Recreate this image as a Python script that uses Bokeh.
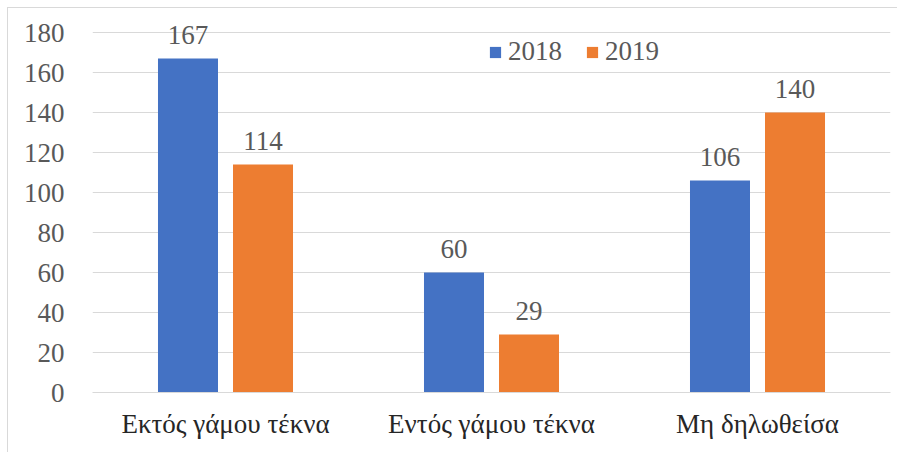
from bokeh.plotting import figure
from bokeh.models import ColumnDataSource, FactorRange, LabelSet, Legend, LegendItem
from bokeh.transform import dodge
from bokeh.embed import file_html
from bokeh.resources import INLINE

categories = ["Εκτός γάμου τέκνα", "Εντός γάμου τέκνα", "Μη δηλωθείσα"]
v2018 = [167, 60, 106]
v2019 = [114, 29, 140]
y_ticks = [0, 20, 40, 60, 80, 100, 120, 140, 160, 180]

FONT = "Liberation Serif"
BLUE = "#4472C4"
ORANGE = "#ED7D31"

src = ColumnDataSource(data=dict(
    cat=categories, a=v2018, b=v2019,
    la=[str(v) for v in v2018], lb=[str(v) for v in v2019],
))

p = figure(x_range=FactorRange(*categories), y_range=(0, 190),
           width=890, height=445, output_backend="svg", toolbar_location=None,
           min_border_left=84, min_border_right=8, min_border_top=4, min_border_bottom=61)
p.margin = (7, 0, 0, 7)
p.styles = {"border-left": "1px solid #d9d9d9", "border-top": "1px solid #d9d9d9"}
p.outline_line_color = None

r1 = p.vbar(x=dodge("cat", -0.141, range=p.x_range), top="a", width=0.2256,
            source=src, fill_color=BLUE, line_color=None)
r2 = p.vbar(x=dodge("cat", 0.141, range=p.x_range), top="b", width=0.2256,
            source=src, fill_color=ORANGE, line_color=None)

for col, lab, off in (("a", "la", -0.141), ("b", "lb", 0.141)):
    p.add_layout(LabelSet(x=dodge("cat", off, range=p.x_range), y=col, text=lab, source=src,
                          y_offset=15, text_align="center", text_baseline="alphabetic",
                          text_font=FONT, text_font_size="27px", text_color="#595959"))

p.yaxis.ticker = y_ticks
p.yaxis.axis_line_color = None
p.yaxis.major_tick_line_color = None
p.yaxis.minor_tick_line_color = None
p.yaxis.major_label_standoff = 22
p.yaxis.major_label_text_font = FONT
p.yaxis.major_label_text_font_size = "27px"
p.yaxis.major_label_text_color = "#595959"

p.xaxis.axis_line_color = "#d9d9d9"
p.xaxis.major_tick_line_color = None
p.xaxis.minor_tick_line_color = None
p.xaxis.major_label_standoff = 10
p.xaxis.major_label_text_font = FONT
p.xaxis.major_label_text_font_size = "27px"
p.xaxis.major_label_text_color = "#262626"

p.xgrid.grid_line_color = None
p.ygrid.grid_line_color = "#d9d9d9"
p.ygrid.grid_line_width = 1

legend = Legend(items=[LegendItem(label="2018", renderers=[r1]),
                       LegendItem(label="2019", renderers=[r2])],
                orientation="horizontal", location=(396, 325),
                padding=0, margin=0, spacing=23, label_standoff=6,
                glyph_width=14, glyph_height=14, label_height=14,
                border_line_color=None, background_fill_alpha=0,
                label_text_font=FONT, label_text_font_size="27px",
                label_text_color="#595959")
p.add_layout(legend, "center")

open("out.html", "w").write(file_html(p, INLINE))
